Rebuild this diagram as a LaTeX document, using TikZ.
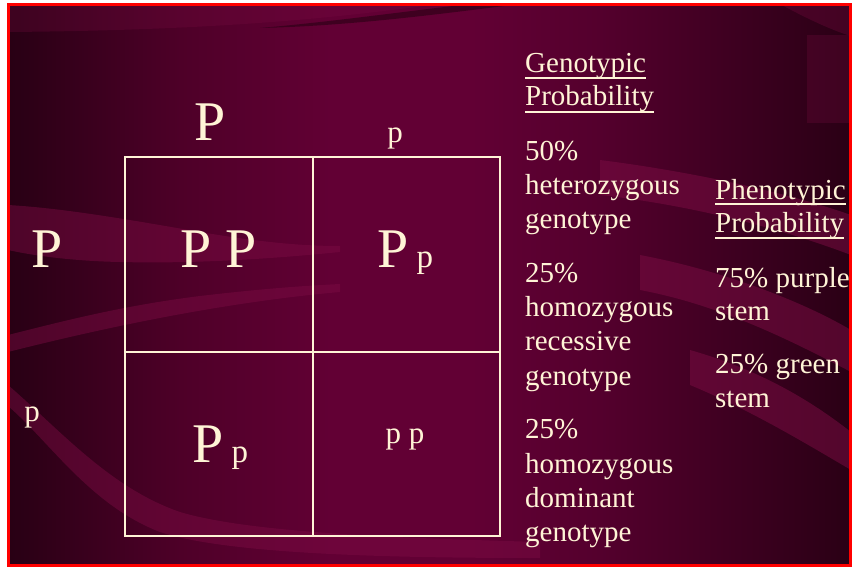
\documentclass[tikz,border=0pt]{standalone}
\usepackage{fontspec}
\setmainfont{Liberation Serif}
\newfontfamily\tnr{Liberation Serif}
\definecolor{cream}{RGB}{255,244,214}
\definecolor{bgA}{RGB}{40,0,20}
\definecolor{bgB}{RGB}{78,0,40}
\definecolor{bgC}{RGB}{98,0,52}
\definecolor{bgD}{RGB}{84,0,45}
\definecolor{bgE}{RGB}{42,0,21}
\definecolor{band}{RGB}{125,12,68}
\definecolor{shadow}{RGB}{30,0,14}
\definecolor{framered}{RGB}{255,0,0}
\tikzset{
  txt/.style={text=cream, inner sep=0pt, anchor=base west, font=\tnr\fontsize{29}{34}\selectfont},
  bigP/.style={text=cream, inner sep=0pt, anchor=base, font=\tnr\fontsize{56}{60}\selectfont},
  smallp/.style={text=cream, inner sep=0pt, anchor=base, font=\tnr\fontsize{31}{34}\selectfont},
  mixed/.style={text=cream, inner sep=0pt, anchor=base west, font=\tnr},
  uline/.style={draw=cream, line width=1.4pt},
  gridouter/.style={draw=cream, line width=2.2pt},
  gridinner/.style={draw=cream, line width=1.4pt},
  lightband/.style={fill=band, opacity=0.45},
  darkband/.style={fill=shadow, opacity=0.5}
}
\newcommand{\bigsmall}{{\fontsize{56}{60}\selectfont P}{\fontsize{33}{36}\selectfont\ p}}
\begin{document}
\begin{tikzpicture}[x=1pt,y=-1pt]
\useasboundingbox (0,0) rectangle (853,567);
\fill[white] (0,0) rectangle (853,567);
% background gradient
\shade[left color=bgA,right color=bgB] (8,4) rectangle (181,565);
\shade[left color=bgB,right color=bgC] (180,4) rectangle (331,565);
\fill[bgC] (330,4) rectangle (471,565);
\shade[left color=bgC,right color=bgD] (470,4) rectangle (601,565);
\shade[left color=bgD,right color=bgE] (600,4) rectangle (851,565);
% wavy bands
\fill[lightband, opacity=0.25] (8,4) -- (440,4) .. controls (360,14) and (250,30) .. (8,32) -- cycle;
\fill[darkband] (260,28) .. controls (330,22) and (400,12) .. (470,4) -- (520,4) .. controls (440,14) and (350,26) .. (260,28) -- cycle;
\fill[lightband] (8,205) .. controls (60,208) and (120,218) .. (200,232) .. controls (260,242) and (300,246) .. (340,246) -- (340,252) .. controls (280,258) and (200,264) .. (120,262) .. controls (70,261) and (30,255) .. (8,250) -- cycle;
\fill[lightband] (8,335) .. controls (60,322) and (120,306) .. (200,296) .. controls (260,289) and (300,286) .. (340,284) -- (340,292) .. controls (260,299) and (150,316) .. (8,352) -- cycle;
\fill[lightband] (8,385) .. controls (60,430) and (110,488) .. (180,512) .. controls (250,533) and (400,538) .. (540,542) -- (540,558) .. controls (400,558) and (230,555) .. (160,532) .. controls (90,505) and (50,442) .. (8,406) -- cycle;
\fill[lightband, opacity=0.5] (600,160) .. controls (680,170) and (780,190) .. (851,215) -- (851,255) .. controls (780,228) and (690,205) .. (600,195) -- cycle;
\fill[lightband, opacity=0.5] (640,255) .. controls (720,270) and (800,300) .. (851,330) -- (851,372) .. controls (790,340) and (720,305) .. (640,290) -- cycle;
\fill[lightband, opacity=0.5] (690,350) .. controls (760,370) and (810,400) .. (851,432) -- (851,470) .. controls (800,440) and (750,410) .. (690,385) -- cycle;
\fill[lightband, opacity=0.3] (780,4) -- (851,4) -- (851,36) .. controls (830,30) and (800,15) .. (780,4) -- cycle;
\fill[band, opacity=0.25] (807,35) rectangle (851,123);
% red frame
\draw[framered, line width=3pt] (8.5,4.5) rectangle (850.5,565);
% Punnett square
\draw[gridouter] (125,157) rectangle (500,536);
\draw[gridinner] (313,157) -- (313,536);
\draw[gridinner] (125,352) -- (500,352);
% parent alleles
\node[bigP] (topP) at (210,140) {P};
\node[smallp] (topp) at (395,142) {p};
\node[bigP] (leftP) at (47,267) {P};
\node[smallp] (leftp) at (32,421) {p};
% cells
\node[bigP] (cPP) at (219,267) {P P};
\node[mixed] (cPp1) at (377,267) {\bigsmall};
\node[mixed] (cPp2) at (192,462) {\bigsmall};
\node[smallp] (cpp) at (405,443) {p p};
% genotypic column
\node[txt] (g1) at (525,73) {Genotypic};
\node[txt] (g2) at (525,106) {Probability};
\draw[uline] ([yshift=-5pt]g1.base west) -- ([yshift=-5pt]g1.base east);
\draw[uline] ([yshift=-6pt]g2.base west) -- ([yshift=-6pt]g2.base east);
\node[txt] (a1) at (525,160) {50\%};
\node[txt] (a2) at (525,194) {heterozygous};
\node[txt] (a3) at (525,228) {genotype};
\node[txt] (b1) at (525,282) {25\%};
\node[txt] (b2) at (525,316) {homozygous};
\node[txt] (b3) at (525,350) {recessive};
\node[txt] (b4) at (525,385) {genotype};
\node[txt] (c1) at (525,438) {25\%};
\node[txt] (c2) at (525,473) {homozygous};
\node[txt] (c3) at (525,507) {dominant};
\node[txt] (c4) at (525,541) {genotype};
% phenotypic column
\node[txt] (h1) at (715,199) {Phenotypic};
\node[txt] (h2) at (715,232) {Probability};
\draw[uline] ([yshift=-5pt]h1.base west) -- ([yshift=-5pt]h1.base east);
\draw[uline] ([yshift=-6pt]h2.base west) -- ([yshift=-6pt]h2.base east);
\node[txt] (d1) at (715,287) {75\% purple};
\node[txt] (d2) at (715,320) {stem};
\node[txt] (e1) at (715,373) {25\% green};
\node[txt] (e2) at (715,407) {stem};
\end{tikzpicture}
\end{document}
